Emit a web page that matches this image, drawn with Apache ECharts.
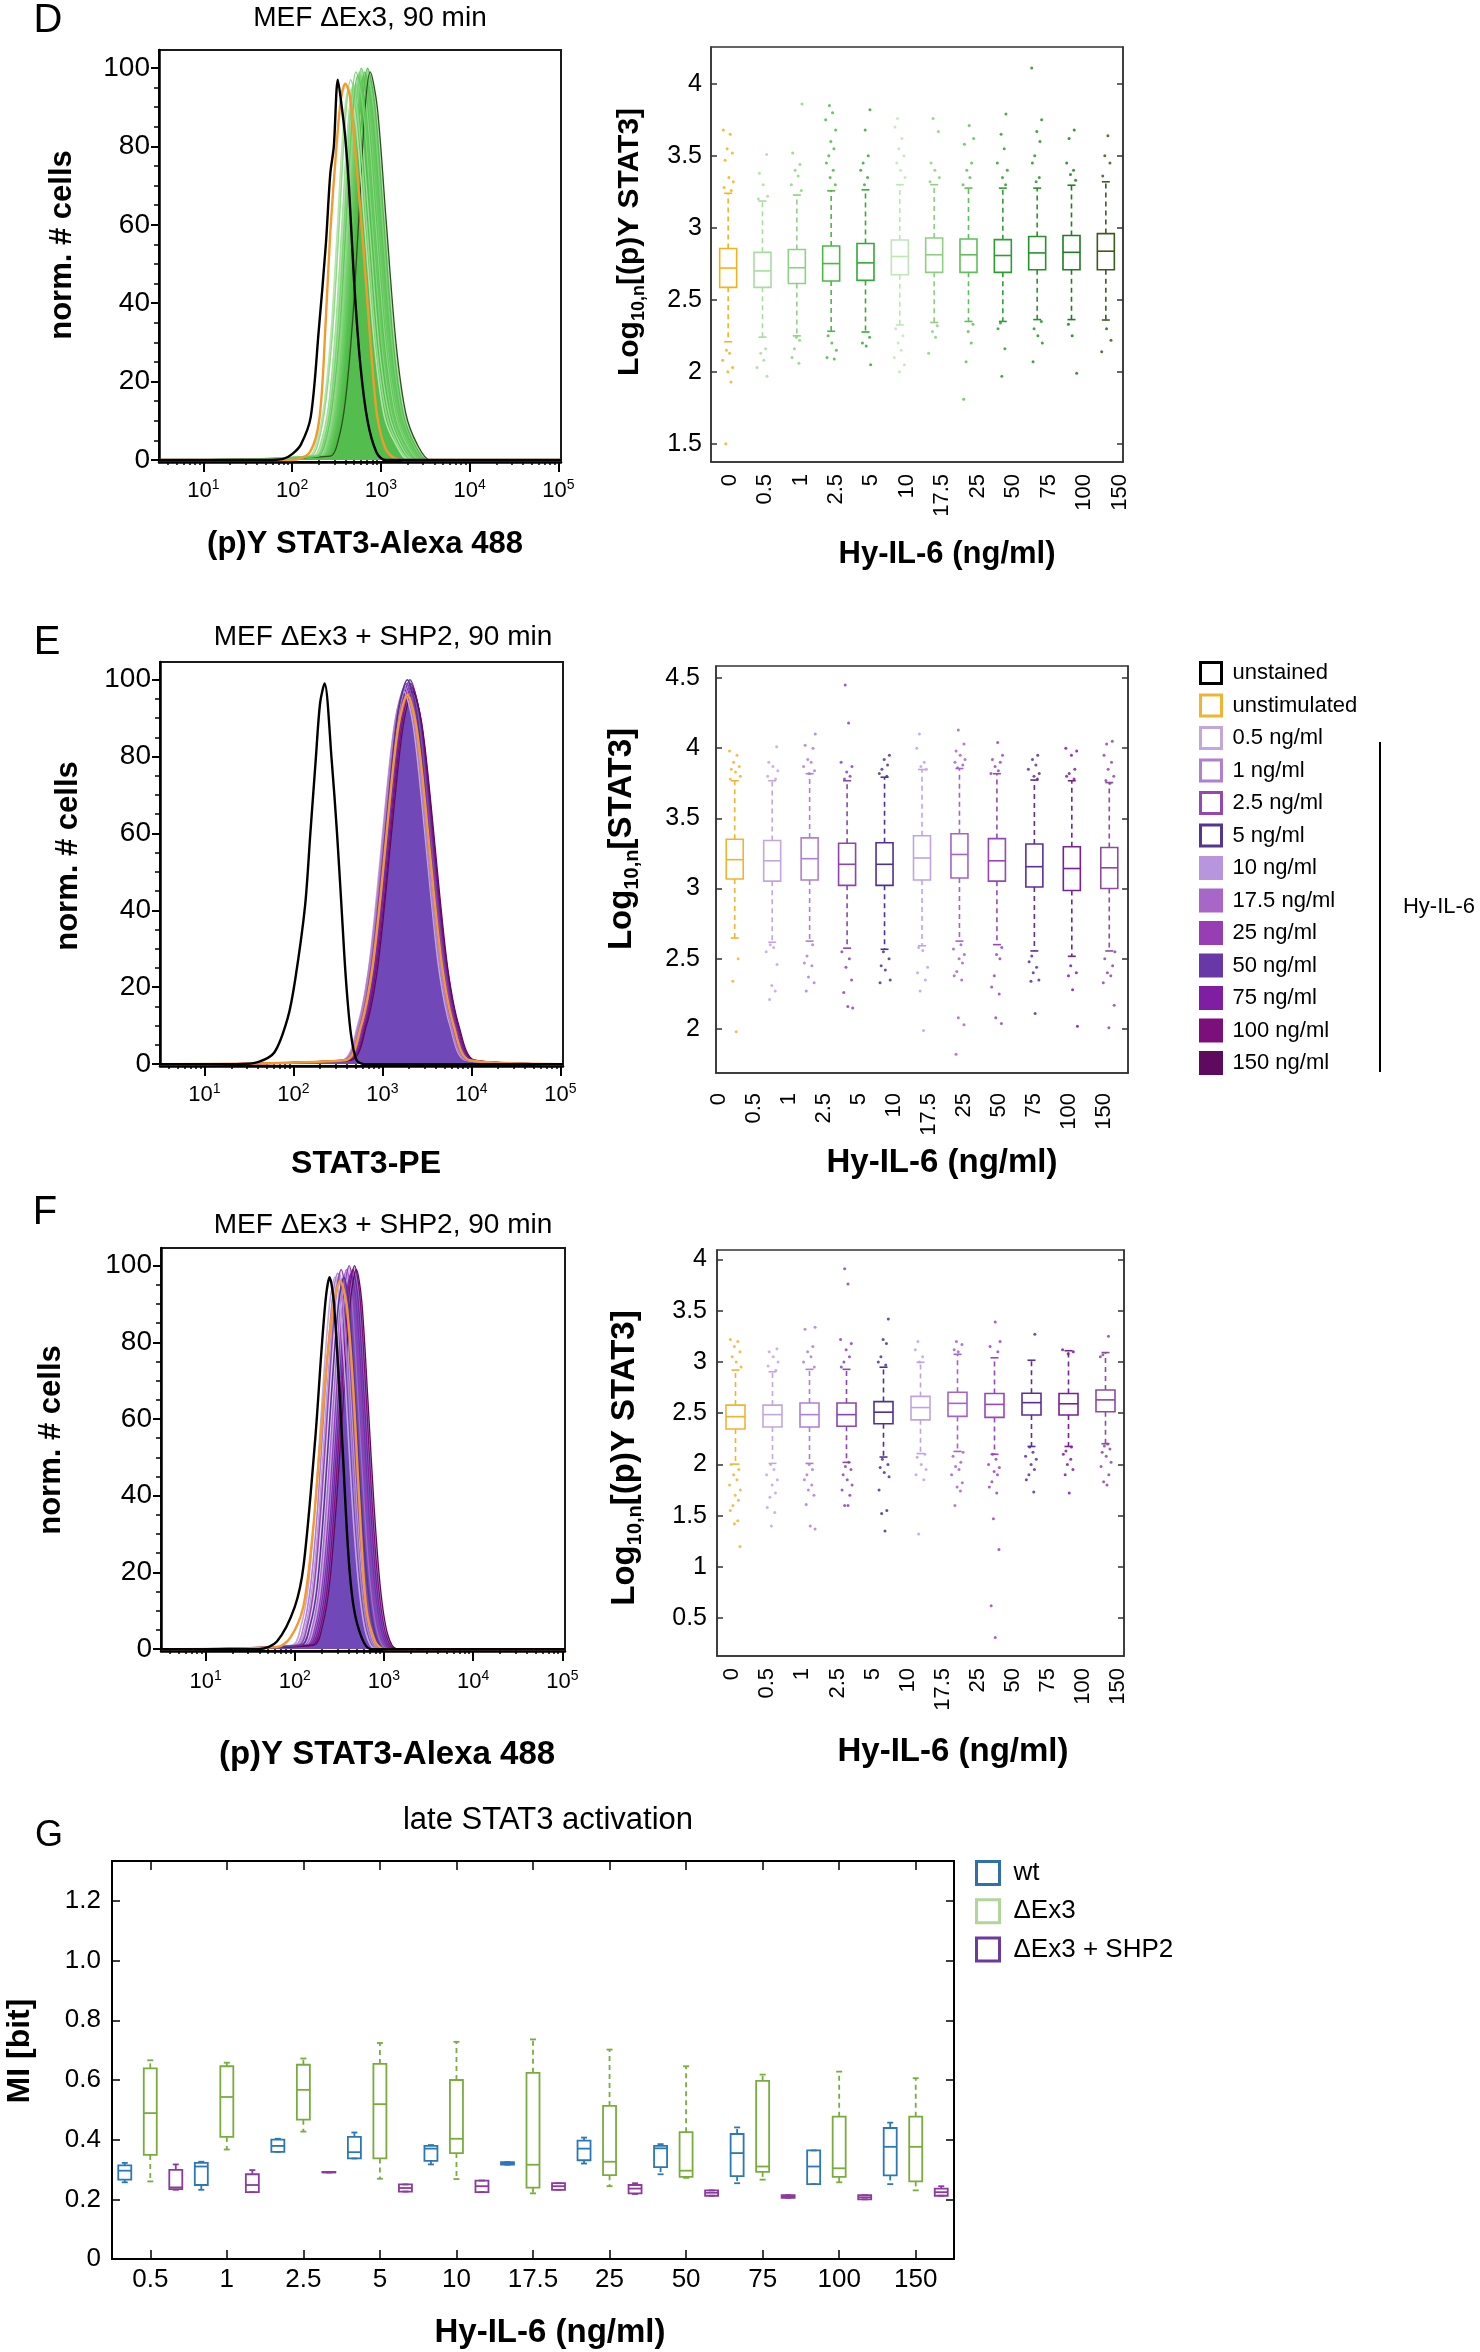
<!DOCTYPE html>
<html><head><meta charset="utf-8">
<script src="https://cdn.jsdelivr.net/npm/echarts@6/dist/echarts.min.js"></script>
<style>html,body{margin:0;padding:0;background:#fff}#c{width:1480px;height:2352px}</style>
</head><body><div id="c"></div>
<script>
// ---------------- DATA ----------------
const DOSE_LABELS = ['0','0.5','1','2.5','5','10','17.5','25','50','75','100','150'];
const G_CATS = ['0.5','1','2.5','5','10','17.5','25','50','75','100','150'];
const CONDITIONS = ['0.5 ng/ml','1 ng/ml','2.5 ng/ml','5 ng/ml','10 ng/ml','17.5 ng/ml','25 ng/ml','50 ng/ml','75 ng/ml','100 ng/ml','150 ng/ml'];
const LOG_MAJOR = [1,2,3,4,5];
const PCT_MAJOR = [0,20,40,60,80,100];
const PCT_MINOR = [5,10,15,25,30,35,45,50,55,65,70,75,85,90,95];

// histogram curves: [log10 intensity, norm. # cells]
const D_UNSTAINED = [[1.70,0],[1.90,0.3],[2.00,1.5],[2.10,4],[2.21,11],[2.30,33],[2.38,55],[2.43,73],[2.47,80],[2.515,97],[2.56,90],[2.60,82],[2.64,70],[2.70,45],[2.77,24],[2.85,10],[2.95,2],[3.05,0]];
const D_UNSTIM = [[2.00,0],[2.20,2],[2.31,11],[2.38,36],[2.43,58],[2.50,80],[2.55,92],[2.60,96],[2.65,93],[2.70,82],[2.80,55],[2.90,25],[2.96,11],[3.05,3],[3.15,0.5],[3.25,0]];
const D_STIM = [
[[2.19,1],[2.28,5],[2.36,14],[2.44,33],[2.51,59],[2.58,86],[2.64,95],[2.72,86],[2.82,59],[2.93,29],[3.04,11],[3.17,4],[3.32,0]],
[[2.21,1],[2.30,5],[2.38,15],[2.46,34],[2.53,60],[2.60,87],[2.66,97],[2.74,88],[2.84,60],[2.95,29],[3.06,12],[3.19,4],[3.34,0]],
[[2.27,1],[2.36,5],[2.44,15],[2.52,35],[2.59,61],[2.66,89],[2.72,99],[2.80,90],[2.90,61],[3.01,30],[3.12,12],[3.25,4],[3.40,0]],
[[2.29,1],[2.38,5],[2.46,15],[2.54,34],[2.61,61],[2.68,88],[2.74,98],[2.82,89],[2.92,61],[3.03,29],[3.14,12],[3.27,4],[3.42,0]],
[[2.24,1],[2.33,5],[2.41,14],[2.49,34],[2.56,60],[2.63,86],[2.69,96],[2.77,87],[2.87,60],[2.98,29],[3.09,12],[3.22,4],[3.37,0]],
[[2.31,1],[2.40,5],[2.48,15],[2.56,35],[2.63,61],[2.70,89],[2.76,99],[2.84,90],[2.94,61],[3.05,30],[3.16,12],[3.29,4],[3.44,0]],
[[2.33,1],[2.42,5],[2.50,15],[2.58,35],[2.65,62],[2.72,90],[2.78,100],[2.86,91],[2.96,62],[3.07,30],[3.18,12],[3.31,4],[3.46,0]],
[[2.35,1],[2.44,5],[2.52,15],[2.60,34],[2.67,61],[2.74,88],[2.80,98],[2.88,89],[2.98,61],[3.09,29],[3.20,12],[3.33,4],[3.48,0]],
[[2.37,1],[2.46,5],[2.54,15],[2.62,35],[2.69,61],[2.76,89],[2.82,99],[2.90,90],[3.00,61],[3.11,30],[3.22,12],[3.35,4],[3.50,0]],
[[2.40,1],[2.49,5],[2.57,15],[2.65,35],[2.72,62],[2.79,90],[2.85,100],[2.93,91],[3.03,62],[3.14,30],[3.25,12],[3.38,4],[3.53,0]],
[[2.43,1],[2.52,5],[2.60,15],[2.68,35],[2.75,61],[2.82,89],[2.88,99],[2.96,90],[3.06,61],[3.17,30],[3.28,12],[3.41,4],[3.56,0]]
];
const E_UNSTAINED = [[1.40,0],[1.60,0.5],[1.785,3],[1.936,12],[2.02,22],[2.13,41],[2.19,60],[2.25,79],[2.30,94],[2.35,99],[2.43,79],[2.49,60],[2.54,41],[2.59,22],[2.645,8],[2.71,1],[2.80,0]];
const E_UNSTIM = [[2.58,1],[2.76,10],[2.88,24],[2.98,44],[3.08,68],[3.18,88],[3.28,96],[3.38,88],[3.48,68],[3.58,44],[3.68,24],[3.80,10],[3.98,1]];
const E_STIM = [
[[2.54,1],[2.72,10],[2.84,24],[2.94,45],[3.04,69],[3.14,89],[3.24,97],[3.34,89],[3.44,69],[3.54,45],[3.64,24],[3.76,10],[3.94,1]],
[[2.55,1],[2.73,10],[2.85,25],[2.95,45],[3.05,70],[3.15,90],[3.25,98],[3.35,90],[3.45,70],[3.55,45],[3.65,25],[3.77,10],[3.95,1]],
[[2.57,1],[2.75,10],[2.87,25],[2.97,46],[3.07,70],[3.17,91],[3.27,99],[3.37,91],[3.47,70],[3.57,46],[3.67,25],[3.79,10],[3.97,1]],
[[2.58,1],[2.76,10],[2.88,25],[2.98,46],[3.08,71],[3.18,92],[3.28,100],[3.38,92],[3.48,71],[3.58,46],[3.68,25],[3.80,10],[3.98,1]],
[[2.56,1],[2.74,10],[2.86,25],[2.96,45],[3.06,70],[3.16,90],[3.26,98],[3.36,90],[3.46,70],[3.56,45],[3.66,25],[3.78,10],[3.96,1]],
[[2.59,1],[2.77,10],[2.89,25],[2.99,46],[3.09,70],[3.19,91],[3.29,99],[3.39,91],[3.49,70],[3.59,46],[3.69,25],[3.81,10],[3.99,1]],
[[2.60,1],[2.78,10],[2.90,24],[3.00,45],[3.10,69],[3.20,89],[3.30,97],[3.40,89],[3.50,69],[3.60,45],[3.70,24],[3.82,10],[4.00,1]],
[[2.61,1],[2.79,10],[2.91,25],[3.01,46],[3.11,71],[3.21,92],[3.31,100],[3.41,92],[3.51,71],[3.61,46],[3.71,25],[3.83,10],[4.01,1]],
[[2.62,1],[2.80,10],[2.92,25],[3.02,46],[3.12,70],[3.22,91],[3.32,99],[3.42,91],[3.52,70],[3.62,46],[3.72,25],[3.84,10],[4.02,1]],
[[2.63,1],[2.81,10],[2.93,25],[3.03,45],[3.13,70],[3.23,90],[3.33,98],[3.43,90],[3.53,70],[3.63,45],[3.73,25],[3.85,10],[4.03,1]],
[[2.64,1],[2.82,10],[2.94,24],[3.04,45],[3.14,69],[3.24,89],[3.34,97],[3.44,89],[3.54,69],[3.64,45],[3.74,24],[3.86,10],[4.04,1]]
];
const F_UNSTAINED = [[1.60,0],[1.80,2],[2.00,11],[2.10,22],[2.23,55],[2.30,78],[2.35,92],[2.39,97],[2.44,90],[2.53,55],[2.60,25],[2.66,11],[2.75,3],[2.85,0]];
const F_UNSTIM = [[1.80,0.5],[1.95,3],[2.095,11],[2.20,30],[2.30,58],[2.40,84],[2.51,96],[2.58,90],[2.65,70],[2.72,40],[2.80,11],[2.90,2],[3.00,0]];
const F_STIM = [
[[1.97,1],[2.07,6],[2.15,16],[2.23,38],[2.31,66],[2.39,90],[2.45,97],[2.51,89],[2.58,64],[2.65,36],[2.72,16],[2.80,4],[2.91,0]],
[[2.00,1],[2.10,6],[2.18,17],[2.26,38],[2.34,67],[2.42,91],[2.48,98],[2.54,90],[2.61,65],[2.68,36],[2.75,16],[2.83,4],[2.94,0]],
[[2.04,1],[2.14,6],[2.22,17],[2.30,39],[2.38,67],[2.46,92],[2.52,99],[2.58,91],[2.65,65],[2.72,37],[2.79,16],[2.87,4],[2.98,0]],
[[2.07,1],[2.17,6],[2.25,16],[2.33,38],[2.41,66],[2.49,90],[2.55,97],[2.61,89],[2.68,64],[2.75,36],[2.82,16],[2.90,4],[3.01,0]],
[[2.02,1],[2.12,6],[2.20,17],[2.28,38],[2.36,67],[2.44,91],[2.50,98],[2.56,90],[2.63,65],[2.70,36],[2.77,16],[2.85,4],[2.96,0]],
[[2.10,1],[2.20,6],[2.28,17],[2.36,39],[2.44,67],[2.52,92],[2.58,99],[2.64,91],[2.71,65],[2.78,37],[2.85,16],[2.93,4],[3.04,0]],
[[2.13,1],[2.23,6],[2.31,17],[2.39,39],[2.47,68],[2.55,93],[2.61,100],[2.67,92],[2.74,66],[2.81,37],[2.88,16],[2.96,4],[3.07,0]],
[[2.15,1],[2.25,6],[2.33,17],[2.41,38],[2.49,67],[2.57,91],[2.63,98],[2.69,90],[2.76,65],[2.83,36],[2.90,16],[2.98,4],[3.09,0]],
[[2.17,1],[2.27,6],[2.35,17],[2.43,39],[2.51,67],[2.59,92],[2.65,99],[2.71,91],[2.78,65],[2.85,37],[2.92,16],[3.00,4],[3.11,0]],
[[2.19,1],[2.29,6],[2.37,17],[2.45,39],[2.53,68],[2.61,93],[2.67,100],[2.73,92],[2.80,66],[2.87,37],[2.94,16],[3.02,4],[3.13,0]],
[[2.21,1],[2.31,6],[2.39,17],[2.47,39],[2.55,67],[2.63,92],[2.69,99],[2.75,91],[2.82,65],[2.89,37],[2.96,16],[3.04,4],[3.15,0]]
];

// box plots: [min, q1, median, q3, max]
const D_BOX = [
[2.209,2.587,2.721,2.857,3.240],[2.241,2.587,2.701,2.830,3.186],[2.250,2.614,2.723,2.850,3.228],
[2.282,2.631,2.752,2.874,3.257],[2.277,2.635,2.757,2.891,3.264],[2.326,2.674,2.801,2.916,3.300],
[2.343,2.691,2.813,2.930,3.300],[2.350,2.691,2.813,2.923,3.276],[2.350,2.691,2.808,2.918,3.276],
[2.363,2.709,2.826,2.940,3.276],[2.363,2.709,2.830,2.947,3.296],[2.360,2.709,2.838,2.960,3.320]
];
const D_OUT = [
[3.68,3.65,3.55,3.52,3.47,3.35,3.32,3.28,3.26,2.15,2.13,2.08,2.03,2.00,1.93,1.50],
[3.51,3.38,3.30,3.22,3.20,2.16,2.13,2.08,2.03,1.97],
[3.86,3.52,3.44,3.40,3.36,3.30,3.26,2.24,2.22,2.16,2.10,2.06],
[3.85,3.80,3.75,3.68,3.60,3.55,3.50,3.45,3.40,3.35,3.30,2.25,2.20,2.15,2.10,2.09],
[3.82,3.68,3.50,3.45,3.40,3.35,3.30,2.24,2.20,2.18,2.05],
[3.76,3.70,3.62,3.55,3.50,3.45,3.40,3.35,2.30,2.25,2.20,2.15,2.10,2.05,2.00],
[3.76,3.67,3.45,3.40,3.35,3.32,2.32,2.28,2.24,2.13],
[3.71,3.62,3.58,3.45,3.40,3.35,3.30,2.33,2.28,2.20,2.07,1.81],
[3.79,3.65,3.55,3.45,3.40,3.35,3.30,2.34,2.30,2.16,1.97],
[4.11,3.75,3.67,3.60,3.50,3.45,3.35,3.32,2.35,2.30,2.25,2.20,2.07],
[3.68,3.62,3.45,3.40,3.37,3.33,2.33,2.25,1.99],
[3.64,3.50,3.45,3.36,2.30,2.22,2.14]
];
const E_BOX = [
[2.648,3.068,3.206,3.351,3.768],[2.618,3.053,3.198,3.343,3.768],[2.626,3.061,3.213,3.361,3.818],
[2.576,3.023,3.173,3.323,3.768],[2.568,3.023,3.173,3.326,3.793],[2.593,3.061,3.218,3.376,3.848],
[2.626,3.076,3.243,3.391,3.855],[2.601,3.053,3.198,3.356,3.818],[2.556,3.011,3.156,3.318,3.773],
[2.518,2.986,3.143,3.298,3.768],[2.556,3.001,3.148,3.293,3.755]
];
const E_OUT = [
[3.98,3.95,3.90,3.87,3.85,3.83,3.80,3.78,2.50,2.34,1.98],
[4.01,3.90,3.87,3.84,3.80,3.78,2.60,2.58,2.55,2.46,2.31,2.27,2.21],
[4.10,4.02,4.00,3.92,3.90,3.87,3.84,3.82,2.60,2.52,2.47,2.45,2.37,2.33,2.27],
[4.45,4.18,3.90,3.87,3.83,3.80,3.78,2.55,2.50,2.44,2.35,2.26,2.16,2.15],
[3.95,3.92,3.88,3.85,3.82,3.80,2.55,2.50,2.45,2.42,2.35,2.33],
[4.10,4.00,3.90,3.87,3.85,2.58,2.56,2.44,2.40,2.35,2.27,1.99],
[4.13,4.03,3.98,3.95,3.92,3.90,3.88,3.86,2.60,2.57,2.53,2.50,2.47,2.41,2.38,2.35,2.08,2.03,1.82],
[4.04,3.95,3.92,3.90,3.87,3.84,3.82,2.58,2.53,2.50,2.38,2.30,2.25,2.08,2.04],
[3.95,3.92,3.88,3.85,3.82,3.80,3.78,2.52,2.48,2.44,2.40,2.35,2.34,2.11],
[4.00,3.98,3.95,3.85,3.82,3.80,3.78,2.45,2.40,2.38,2.28,2.02],
[4.05,4.03,3.95,3.90,3.85,3.80,3.77,3.75,2.55,2.50,2.45,2.40,2.38,2.33,2.17,2.01]
];
const F_BOX = [
[2.003,2.346,2.466,2.579,2.921],[2.010,2.366,2.486,2.579,2.904],[2.010,2.366,2.486,2.599,2.928],
[2.020,2.373,2.486,2.599,2.928],[2.072,2.397,2.510,2.613,2.949],[2.106,2.435,2.555,2.664,2.997],
[2.127,2.469,2.596,2.705,3.075],[2.099,2.459,2.586,2.692,3.041],[2.175,2.483,2.603,2.695,3.017],
[2.175,2.483,2.592,2.692,3.110],[2.202,2.514,2.630,2.726,3.092]
];
const F_OUT = [
[3.22,3.20,3.15,3.10,3.05,3.00,2.95,2.00,1.95,1.90,1.85,1.80,1.75,1.70,1.65,1.60,1.55,1.45,1.42,1.20],
[3.13,3.10,3.05,3.00,2.96,2.92,2.00,1.95,1.90,1.85,1.80,1.72,1.68,1.58,1.53,1.40],
[3.34,3.32,3.15,3.10,3.05,3.00,2.95,2.00,1.95,1.90,1.85,1.80,1.75,1.70,1.61,1.40,1.37],
[3.91,3.76,3.22,3.18,3.12,3.05,3.00,2.95,2.02,1.98,1.95,1.90,1.85,1.80,1.75,1.70,1.60,1.60],
[3.42,3.22,3.18,3.05,3.00,2.97,2.05,2.00,1.97,1.92,1.88,1.75,1.55,1.52,1.35],
[3.20,3.12,3.05,3.00,2.10,2.07,2.00,1.95,1.90,1.85,1.32],
[3.20,3.17,3.12,3.10,2.12,2.08,2.02,1.98,1.95,1.90,1.82,1.78,1.74,1.60],
[3.39,3.20,3.15,3.10,2.10,2.05,2.00,1.97,1.93,1.90,1.83,1.78,1.72,1.47,1.17,0.62,0.31],
[3.27,2.17,2.12,2.08,2.05,2.00,1.95,1.90,1.85,1.73],
[3.12,3.10,3.08,2.17,2.13,2.10,2.05,2.00,1.95,1.90,1.72],
[3.25,3.07,3.05,2.20,2.18,2.15,2.12,2.08,2.02,1.98,1.90,1.83,1.80]
];
const JITTER = [-0.14,0.06,-0.03,0.12,-0.09,0.02,0.15,-0.12,0.09,-0.05,0.04,-0.16,0.13,-0.01,0.08,-0.07];

// panel G: mutual information boxes [min, q1, median, q3, max]
const G_WT = [
[0.257,0.266,0.296,0.314,0.322],[0.232,0.248,0.310,0.322,0.326],[0.359,0.359,0.379,0.400,0.403],
[0.337,0.337,0.358,0.409,0.424],[0.317,0.329,0.370,0.379,0.382],[0.316,0.316,0.320,0.325,0.325],
[0.320,0.331,0.370,0.397,0.407],[0.284,0.308,0.371,0.379,0.385],[0.254,0.278,0.355,0.419,0.441],
[0.251,0.251,0.310,0.364,0.364],[0.251,0.280,0.376,0.439,0.457]
];
const G_DEX3 = [
[0.260,0.349,0.489,0.639,0.666],[0.367,0.409,0.543,0.646,0.658],[0.427,0.467,0.567,0.651,0.672],
[0.269,0.337,0.519,0.654,0.724],[0.268,0.355,0.403,0.600,0.728],[0.220,0.239,0.316,0.624,0.736],
[0.244,0.281,0.326,0.513,0.702],[0.272,0.275,0.296,0.425,0.646],[0.266,0.292,0.310,0.597,0.618],
[0.257,0.275,0.304,0.477,0.628],[0.230,0.260,0.376,0.477,0.606]
];
const G_SHP2 = [
[0.232,0.234,0.240,0.299,0.317],[0.224,0.224,0.248,0.284,0.298],[0.290,0.290,0.291,0.292,0.292],
[0.226,0.226,0.238,0.250,0.250],[0.224,0.224,0.244,0.263,0.263],[0.232,0.232,0.244,0.254,0.254],
[0.218,0.220,0.236,0.248,0.254],[0.212,0.212,0.222,0.230,0.230],[0.205,0.205,0.210,0.214,0.214],
[0.200,0.200,0.207,0.214,0.214],[0.212,0.212,0.224,0.236,0.244]
];

// colours
const D_COLORS = ['#f4b21c','#a9dca0','#8fd184','#4cb848','#35a83a','#bfe6b5','#8dcf81','#5fbf58','#2e9e33','#26922b','#1e7c22','#3c5b20'];
const D_LINE_COLORS = ['#b3e6ab','#95da8c','#7dd475','#66c95f','#9fdf96','#8bd882','#76d06d','#68cb60','#5cc655','#52bf4c','#2f4f1f'];
const D_FILL_COLORS = ['#a9e3a0','#93dc8a','#80d577','#74d06b','#68cb60','#5ec657','#58c451','#50be4a','#48b843','#42b23e','#5cc455'];
const HY_COLORS = ['#c4a6de','#b07fd0','#9448b5','#553592','#b995de','#a866c9','#983db4','#6838a8','#7f1da3','#7c0f7a','#5e0a5e'];
const EF_FILL_COLORS = ['#c4a6de','#b07fd0','#9448b5','#553592','#b994e0','#a57fd8','#9a6ed2','#8a5cc8','#7d4fc2','#7446bb','#5b36a8'];
const EF_BOX_COLORS = ['#f2b330','#c4a6de','#b07fd0','#8a45b0','#4e3192','#c0a3e4','#a463c9','#9a45b8','#5b2e9a','#7a1f96','#8e4a9e'];
const ORANGE = '#f39a2e';
const G_COLORS = {wt:'#2b78b9', dex3:'#79ad3b', shp2:'#8b3b9e'};

// ---------------- BUILD ----------------
const FONT = '"Liberation Sans", Arial, Helvetica, sans-serif';
const X_MIN = 0.5, X_MAX = 5.03, Y_MIN = -0.5, Y_MAX = 104.6;
const LOG_MINOR = [];
for (let n = 0; n < 5; n++) for (let k = 2; k <= 9; k++) { const v = n + Math.log10(k); if (v > X_MIN && v < X_MAX) LOG_MINOR.push(v); }

const grids = [], xAxes = [], yAxes = [], series = [];

function histPanel(c) {
  const gi = grids.length;
  grids.push({left:c.left, top:c.top, width:c.width, height:c.height, show:true, borderColor:'#1a1a1a', borderWidth:2, outerBoundsMode:'none', containLabel:false});
  const xi = xAxes.length;
  xAxes.push({type:'value', gridIndex:gi, position:'bottom', min:X_MIN, max:X_MAX,
    axisLine:{show:true, onZero:false, lineStyle:{color:'#000', width:2.5}}, splitLine:{show:false},
    axisTick:{show:true, customValues:LOG_MAJOR, length:10, lineStyle:{color:'#000', width:2}},
    axisLabel:{show:true, customValues:LOG_MAJOR, margin:c.xMargin, formatter:v => '{b|10}{s|' + Math.round(v) + '}',
      rich:{b:{fontSize:22, fontFamily:FONT, color:'#000', lineHeight:26}, s:{fontSize:14, fontFamily:FONT, color:'#000', lineHeight:14, verticalAlign:'top'}}}});
  xAxes.push({type:'value', gridIndex:gi, position:'bottom', min:X_MIN, max:X_MAX, axisLine:{show:false}, splitLine:{show:false},
    axisTick:{show:true, customValues:LOG_MINOR, length:5, lineStyle:{color:'#000', width:1.5}}, axisLabel:{show:false}});
  const yi = yAxes.length;
  yAxes.push({type:'value', gridIndex:gi, position:'left', min:Y_MIN, max:Y_MAX,
    axisLine:{show:true, onZero:false, lineStyle:{color:'#000', width:2.5}}, splitLine:{show:false},
    axisTick:{show:true, customValues:PCT_MAJOR, length:8, lineStyle:{color:'#000', width:2}},
    axisLabel:{customValues:PCT_MAJOR, fontSize:28, fontFamily:FONT, color:'#000', margin:9}});
  yAxes.push({type:'value', gridIndex:gi, position:'left', min:Y_MIN, max:Y_MAX, axisLine:{show:false}, splitLine:{show:false},
    axisTick:{show:true, customValues:PCT_MINOR, length:5, lineStyle:{color:'#000', width:1.5}}, axisLabel:{show:false}});
  const mk = (name, data, color, width, fill, op) => {
    const s = {type:'line', name:name, xAxisIndex:xi, yAxisIndex:yi, data:[[X_MIN,0]].concat(data, [[X_MAX,0]]),
      smooth:0.3, symbol:'none', silent:true, lineStyle:{color:color, width:width}, itemStyle:{color:color}};
    if (fill) s.areaStyle = {color:fill, opacity:op};
    return s;
  };
  for (let i = 4; i < 11; i++) series.push(mk(c.prefix + CONDITIONS[i], c.stim[i], c.lines[i], 1.3, c.fills[i], c.fillOp));
  for (let i = 0; i < 4; i++) series.push(mk(c.prefix + CONDITIONS[i], c.stim[i], c.lines[i], 1.6, null));
  series.push(mk(c.prefix + 'unstimulated', c.unstim, ORANGE, 2.4, null));
  series.push(mk(c.prefix + 'unstained', c.unst, '#000', 2.4, null));
}

function makeBox(colors, boxW, capW, lw, offset) {
  return function (params, api) {
    const x = api.value(0) + offset;
    const col = Array.isArray(colors) ? colors[params.dataIndex] : colors;
    const pMin = api.coord([x, api.value(1)]);
    const pQ1 = api.coord([x, api.value(2)]);
    const pMed = api.coord([x, api.value(3)]);
    const pQ3 = api.coord([x, api.value(4)]);
    const pMax = api.coord([x, api.value(5)]);
    const cx = pMed[0];
    const solid = {stroke:col, lineWidth:lw, fill:null};
    const dashed = {stroke:col, lineWidth:lw, lineDash:[5,4], fill:null};
    return {type:'group', children:[
      {type:'line', shape:{x1:cx, y1:pQ3[1], x2:cx, y2:pMax[1]}, style:dashed},
      {type:'line', shape:{x1:cx, y1:pQ1[1], x2:cx, y2:pMin[1]}, style:dashed},
      {type:'line', shape:{x1:cx - capW/2, y1:pMax[1], x2:cx + capW/2, y2:pMax[1]}, style:solid},
      {type:'line', shape:{x1:cx - capW/2, y1:pMin[1], x2:cx + capW/2, y2:pMin[1]}, style:solid},
      {type:'rect', shape:{x:cx - boxW/2, y:pQ3[1], width:boxW, height:Math.max(pQ1[1] - pQ3[1], 0.5)}, style:{stroke:col, lineWidth:lw, fill:'rgba(255,255,255,0)'}},
      {type:'line', shape:{x1:cx - boxW/2, y1:pMed[1], x2:cx + boxW/2, y2:pMed[1]}, style:solid}
    ]};
  };
}

function boxPanel(c) {
  const gi = grids.length;
  grids.push({left:c.left, top:c.top, width:c.width, height:c.height, show:true, borderColor:'#333', borderWidth:1.5, outerBoundsMode:'none', containLabel:false});
  const idx = DOSE_LABELS.map((d, i) => i);
  xAxes.push({type:'value', gridIndex:gi, position:'bottom', min:c.labMin, max:c.labMax,
    axisLine:{show:true, onZero:false, lineStyle:{color:'#333', width:1.5}}, axisTick:{show:false}, splitLine:{show:false},
    axisLabel:{customValues:idx, formatter:v => DOSE_LABELS[Math.round(v)], rotate:90, fontSize:22, fontFamily:FONT, color:'#000', margin:c.labMargin}});
  const xb = xAxes.length;
  xAxes.push({type:'value', gridIndex:gi, position:'bottom', min:-0.5, max:c.boxes.length - 0.5, show:false});
  const yl = yAxes.length;
  const yCommon = {type:'value', gridIndex:gi, min:c.ymin, max:c.ymax, splitLine:{show:false},
    axisLine:{show:true, onZero:false, lineStyle:{color:'#333', width:1.5}},
    axisTick:{show:true, inside:true, customValues:c.yticks, length:6, lineStyle:{color:'#333', width:1.5}}};
  yAxes.push(Object.assign({}, yCommon, {position:'left',
    axisLabel:{customValues:c.yticks, formatter:v => String(v), fontSize:25, fontFamily:FONT, color:'#000', margin:c.yMargin}}));
  yAxes.push(Object.assign({}, yCommon, {position:'right', axisLabel:{show:false}}));
  series.push({type:'custom', name:c.name, xAxisIndex:xb, yAxisIndex:yl, silent:true,
    data:c.boxes.map((b, i) => [i].concat(b)), encode:{x:0, y:[1,2,3,4,5]},
    renderItem:makeBox(c.colors, c.boxW, c.capW, 1.6, 0)});
  const pts = [];
  c.outs.forEach((arr, i) => arr.forEach((y, j) => pts.push([i + JITTER[(j + 3*i) % JITTER.length], y, i])));
  series.push({type:'scatter', name:c.name + ' outliers', xAxisIndex:xb, yAxisIndex:yl, silent:true, data:pts, symbolSize:3,
    itemStyle:{color:p => c.colors[p.value[2]], opacity:0.85}});
}

// Panel D
histPanel({left:159, top:50, width:402, height:412, xMargin:16, prefix:'ΔEx3 ', stim:D_STIM, unst:D_UNSTAINED, unstim:D_UNSTIM, lines:D_LINE_COLORS, fills:D_FILL_COLORS, fillOp:0.5});
boxPanel({name:'ΔEx3 (p)Y STAT3', left:711, top:47, width:412, height:415, ymin:1.374, ymax:4.256, yticks:[1.5,2,2.5,3,3.5,4],
  labMin:-0.524, labMax:11.1, labMargin:12, yMargin:9, boxes:D_BOX, outs:D_OUT, colors:D_COLORS, boxW:17, capW:8});
// Panel E
histPanel({left:160, top:662, width:403, height:404, xMargin:16, prefix:'', stim:E_STIM, unst:E_UNSTAINED, unstim:E_UNSTIM, lines:HY_COLORS, fills:EF_FILL_COLORS, fillOp:0.45});
boxPanel({name:'ΔEx3 + SHP2 STAT3', left:716, top:666, width:412, height:407, ymin:1.687, ymax:4.585, yticks:[2,2.5,3,3.5,4,4.5],
  labMin:-0.097, labMax:11.685, labMargin:20, yMargin:16, boxes:E_BOX, outs:E_OUT, colors:EF_BOX_COLORS, boxW:17, capW:8});
// Panel F
histPanel({left:161, top:1248, width:404, height:403, xMargin:18, prefix:'', stim:F_STIM, unst:F_UNSTAINED, unstim:F_UNSTIM, lines:HY_COLORS, fills:EF_FILL_COLORS, fillOp:0.45});
boxPanel({name:'ΔEx3 + SHP2 (p)Y STAT3', left:717, top:1250, width:407, height:406, ymin:0.13, ymax:4.093, yticks:[0.5,1,1.5,2,2.5,3,3.5,4],
  labMin:-0.436, labMax:11.175, labMargin:12, yMargin:10, boxes:F_BOX, outs:F_OUT, colors:EF_BOX_COLORS, boxW:19, capW:8});

// Panel G
(function () {
  const gi = grids.length;
  grids.push({left:112, top:1861, width:842, height:398, show:true, borderColor:'#000', borderWidth:2, outerBoundsMode:'none', containLabel:false});
  const catTick = {show:true, alignWithLabel:true, inside:true, length:9, lineStyle:{color:'#000', width:1.5}};
  xAxes.push({type:'category', gridIndex:gi, position:'bottom', data:G_CATS, boundaryGap:true,
    axisLine:{show:true, onZero:false, lineStyle:{color:'#000', width:2}}, axisTick:catTick, splitLine:{show:false},
    axisLabel:{interval:0, fontSize:26, fontFamily:FONT, color:'#000', margin:8}});
  xAxes.push({type:'category', gridIndex:gi, position:'top', data:G_CATS, boundaryGap:true,
    axisLine:{show:true, onZero:false, lineStyle:{color:'#000', width:2}}, axisTick:catTick, axisLabel:{show:false}, splitLine:{show:false}});
  const xb = xAxes.length;
  xAxes.push({type:'value', gridIndex:gi, position:'bottom', min:-0.5, max:10.5, show:false});
  const yl = yAxes.length;
  const ticks = [0,0.2,0.4,0.6,0.8,1.0,1.2];
  const yCommon = {type:'value', gridIndex:gi, min:0, max:1.334, splitLine:{show:false},
    axisLine:{show:true, onZero:false, lineStyle:{color:'#000', width:2}},
    axisTick:{show:true, inside:true, customValues:ticks, length:8, lineStyle:{color:'#000', width:1.5}}};
  yAxes.push(Object.assign({}, yCommon, {position:'left',
    axisLabel:{customValues:ticks, formatter:v => v === 0 ? '0' : v.toFixed(1), fontSize:26, fontFamily:FONT, color:'#000', margin:11}}));
  yAxes.push(Object.assign({}, yCommon, {position:'right', axisLabel:{show:false}}));
  const groups = [['wt', G_WT, G_COLORS.wt, -1/3], ['ΔEx3', G_DEX3, G_COLORS.dex3, 0], ['ΔEx3 + SHP2', G_SHP2, G_COLORS.shp2, 1/3]];
  groups.forEach(g => series.push({type:'custom', name:g[0], xAxisIndex:xb, yAxisIndex:yl, silent:true,
    itemStyle:{color:g[2]}, data:g[1].map((b, i) => [i].concat(b)), encode:{x:0, y:[1,2,3,4,5]},
    renderItem:makeBox(g[2], 13, 6, 1.8, g[3])}));
})();

// legends
const legE = [
  {name:'unstained', itemStyle:{color:'#fff', borderColor:'#000', borderWidth:3}},
  {name:'unstimulated', itemStyle:{color:'#fff', borderColor:'#f2b330', borderWidth:3}}
].concat(CONDITIONS.map((n, i) => ({name:n, itemStyle:{color: i < 4 ? '#fff' : HY_COLORS[i], borderColor:HY_COLORS[i], borderWidth:3}})));

const txt = (x, y, text, font, rot) => ({type:'text', x:x, y:y, rotation:rot || 0, silent:true,
  style:{text:text, font:font, fill:'#000', textAlign:'center', textVerticalAlign:'middle'}});
const richY = (x, y, tail, size) => ({type:'text', x:x, y:y, rotation:Math.PI/2, silent:true,
  style:{text:'{a|Log}{s|10,n}{a|' + tail + '}', textAlign:'center', textVerticalAlign:'middle',
    rich:{a:{fontSize:size, fontWeight:'bold', fontFamily:FONT, fill:'#000', color:'#000', lineHeight:Math.round(size*1.2)},
          s:{fontSize:Math.round(size*0.6), fontWeight:'bold', fontFamily:FONT, fill:'#000', color:'#000', lineHeight:Math.round(size*0.6), verticalAlign:'bottom'}}}});
const F = (s, w) => (w ? 'bold ' : '') + s + 'px ' + FONT;
const R = Math.PI / 2;

const graphics = [
  txt(48, 21, 'D', F(40)), txt(370, 18, 'MEF ΔEx3, 90 min', F(28)),
  txt(62, 245, 'norm. # cells', F(31, 1), R), txt(365, 544, '(p)Y STAT3-Alexa 488', F(31, 1)),
  richY(630, 242, '[(p)Y STAT3]', 30), txt(947, 554, 'Hy-IL-6 (ng/ml)', F(31, 1)),
  txt(47, 643, 'E', F(40)), txt(383, 637, 'MEF ΔEx3 + SHP2, 90 min', F(28)),
  txt(68, 856, 'norm. # cells', F(31, 1), R), txt(366, 1164, 'STAT3-PE', F(32, 1)),
  richY(622, 839, '[STAT3]', 33), txt(942, 1163, 'Hy-IL-6 (ng/ml)', F(33, 1)),
  txt(45, 1213, 'F', F(40)), txt(383, 1225, 'MEF ΔEx3 + SHP2, 90 min', F(28)),
  txt(51, 1440, 'norm. # cells', F(31, 1), R), txt(387, 1755, '(p)Y STAT3-Alexa 488', F(33, 1)),
  richY(625, 1458, '[(p)Y STAT3]', 33), txt(953, 1752, 'Hy-IL-6 (ng/ml)', F(33, 1)),
  txt(49, 1836, 'G', F(36)), txt(548, 1820, 'late STAT3 activation', F(31)),
  txt(20, 2051, 'MI [bit]', F(32, 1), R), txt(550, 2333, 'Hy-IL-6 (ng/ml)', F(33, 1)),
  {type:'line', silent:true, shape:{x1:1380, y1:742, x2:1380, y2:1072}, style:{stroke:'#000', lineWidth:2}},
  txt(1439, 907, 'Hy-IL-6', F(22))
];

const chart = echarts.init(document.getElementById('c'), null, {renderer:'canvas', width:1480, height:2352});
chart.setOption({
  backgroundColor:'#fff',
  animation:false,
  textStyle:{fontFamily:FONT},
  grid:grids, xAxis:xAxes, yAxis:yAxes, series:series,
  legend:[
    {orient:'vertical', left:1199, top:661, padding:0, itemWidth:21, itemHeight:21, itemGap:8.5, icon:'rect', selectedMode:false,
     textStyle:{fontSize:22, fontFamily:FONT, color:'#000', padding:[0,0,0,6]}, data:legE},
    {orient:'vertical', left:975, top:1860, padding:0, itemWidth:23, itemHeight:23, itemGap:12.3, icon:'rect', selectedMode:false,
     textStyle:{fontSize:26, fontFamily:FONT, color:'#000', padding:[0,0,0,9]},
     data:[{name:'wt', itemStyle:{color:'#fff', borderColor:'#2f6fb0', borderWidth:3}},
           {name:'ΔEx3', itemStyle:{color:'#fff', borderColor:'#b2d59a', borderWidth:3}},
           {name:'ΔEx3 + SHP2', itemStyle:{color:'#fff', borderColor:'#6a3b9e', borderWidth:3}}]}
  ],
  graphic:{elements:graphics}
});
</script></body></html>
